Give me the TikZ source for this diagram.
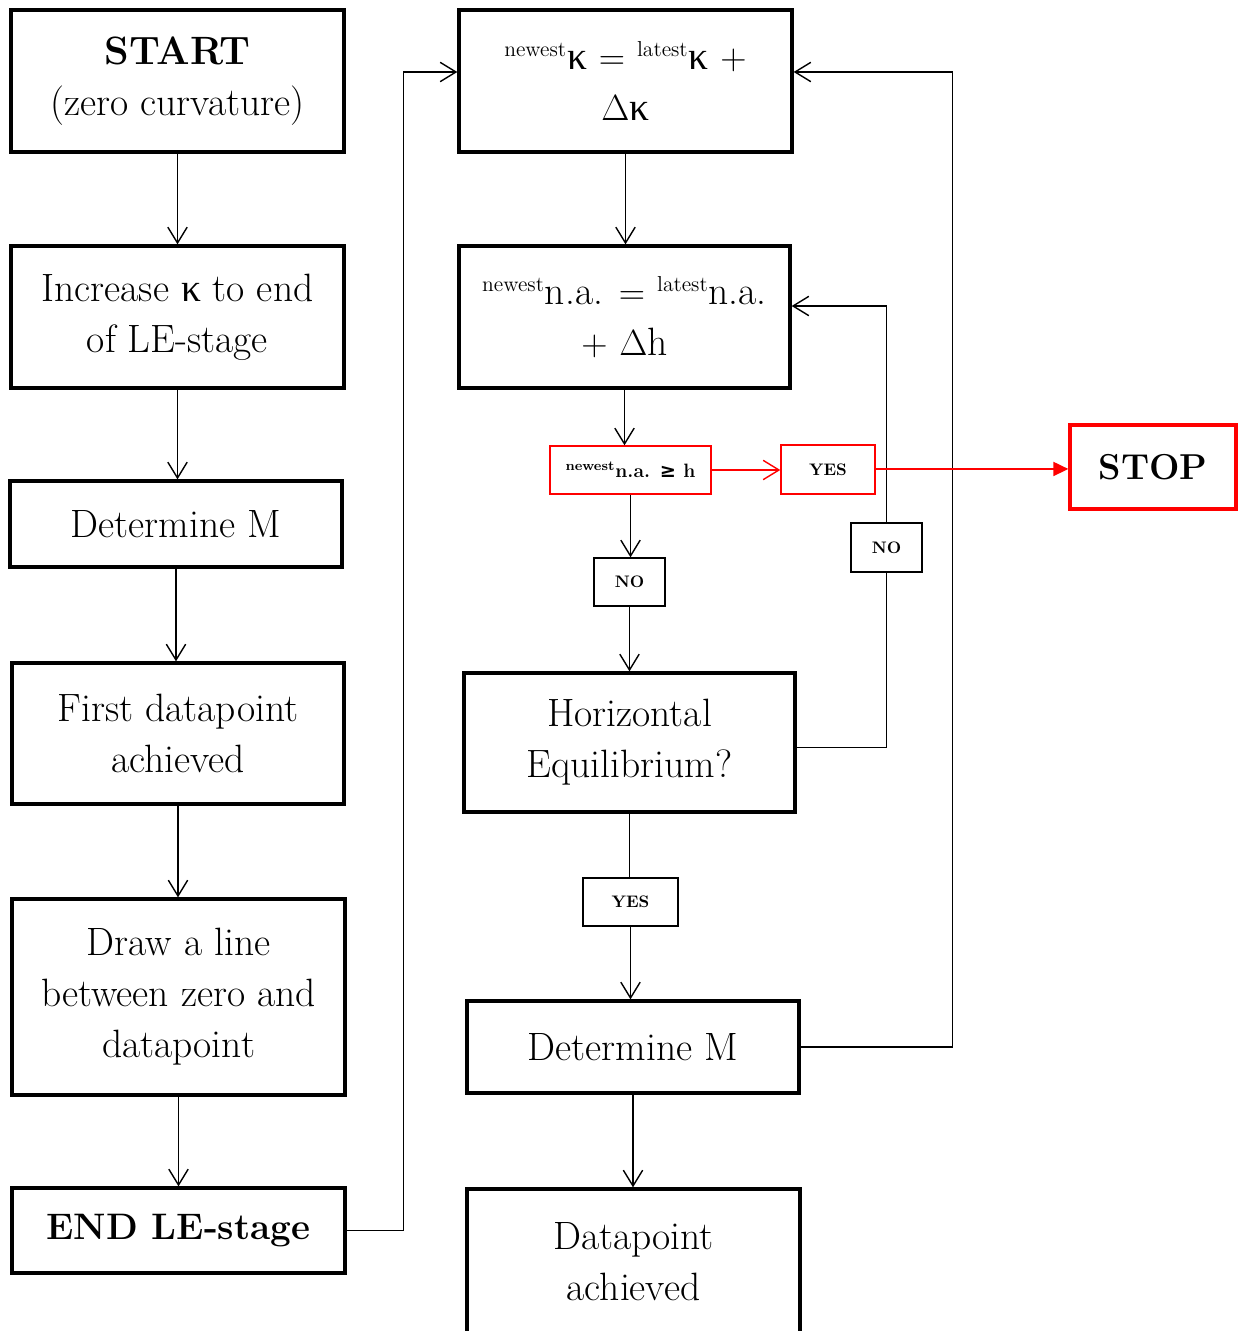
\documentclass[tikz,border=0pt]{standalone}
\usepackage{fontspec}
\newfontfamily\kapfont{Liberation Serif}
\newfontfamily\symfont{DejaVu Sans}
\usetikzlibrary{arrows.meta}
\newcommand{\kap}{{\kapfont κ}}
\newcommand{\sups}[1]{\textsuperscript{\fontsize{12.3}{12.3}\selectfont #1}}

\tikzset{
	flow/.style={draw, line width=1.9pt, align=center, inner sep=0pt, font=\fontsize{22.5}{29}\selectfont},
	tag/.style={draw, line width=0.8pt, inner sep=0pt, font=\bfseries\fontsize{9.5}{10}\selectfont},
	sz/.style 2 args={minimum width=#1*\dim, minimum height=#2*\dim},
	link/.style={line width=0.8pt, -{Straight Barb[length=9pt,width=11pt]}},
}

\begin{document}
\begin{tikzpicture}

\def\dim{0.02cm}

\begin{scope}[x=\dim,y=-\dim]
\useasboundingbox (0,0) rectangle (1238,1331);

\node[flow, sz={333}{142}] (start) at (177.5,81) {\bfseries START\\(zero curvature)};
\node[flow, sz={333}{142}] (incr) at (177.5,317) {Increase \kap{} to end\\of LE-stage};
\node[flow, sz={332}{86}] (detM) at (176,524) {Determine M};
\node[flow, sz={332}{141}] (first) at (178,733.5) {First datapoint\\achieved};
\node[flow, sz={333}{196}] (line) at (178.5,997) {Draw a line\\between zero and\\datapoint};
\node[flow, sz={333}{85}, font=\bfseries\fontsize{21}{29}\selectfont] (endle) at (178.5,1230.5) {END LE-stage};

\node[flow, sz={333}{142}] (kap) at (625.5,81) {\sups{newest}\kap{} $=$ \sups{latest}\kap{} $+$\\$\Delta$\kap};
\node[flow, sz={331}{142}] (na) at (624.5,317) {\sups{newest}n.a. $=$ \sups{latest}n.a.\\$+$ $\Delta$h};
\node[tag, draw=red, sz={161}{48}, font=\bfseries\fontsize{11}{12}\selectfont] (test) at (630.5,470) {\textsuperscript{newest}n.a. {\symfont ≥} h};
\node[tag, draw=red, sz={94}{49}] (yesr) at (828,469.5) {YES};
\node[flow, draw=red, sz={166}{84}, font=\bfseries\fontsize{20.5}{29}\selectfont] (stop) at (1153,467) {STOP};
\node[tag, sz={71}{48}] (nol) at (629.5,582) {NO};
\node[tag, sz={71}{49}] (nor) at (886.5,547.5) {NO};
\node[flow, sz={331}{139}] (he) at (629.5,742.5) {Horizontal\\Equilibrium?};
\node[tag, sz={95}{48}] (yes) at (630.5,902) {YES};
\node[flow, sz={332}{92}] (detMM) at (633,1047) {Determine M};
\node[flow, sz={333}{145}] (dp) at (633.5,1261.5) {Datapoint\\achieved};

\foreach \a/\b in {start/incr, incr/detM, detM/first, first/line, line/endle, kap/na, na/test, test/nol, nol/he, detMM/dp}{
	\draw[link] (\a.south) -- (\a.south |- \b.north);
}
\draw[line width=0.8pt] (he.south) -- (he.south |- yes.north);
\draw[link] (yes.south) -- (yes.south |- detMM.north);

\draw[link] (endle.east) -- ++(57,0) |- ([yshift=0.18cm]kap.west);
\draw[link] (detMM.east) -- ++(152,0) |- ([yshift=0.18cm]kap.east);
\draw[line width=0.8pt] ([yshift=-0.1cm]he.east) -| (nor.south);
\draw[link] (nor.north) |- ([yshift=0.22cm]na.east);

\draw[link, red] (test.east) -- (test.east -| yesr.west);
\draw[red, line width=0.9pt, -{Triangle[length=8.5pt,width=8pt]}] ([yshift=0.3pt]yesr.east) -- ([yshift=0.3pt]yesr.east -| stop.west);
\end{scope}

\end{tikzpicture}
\end{document}
